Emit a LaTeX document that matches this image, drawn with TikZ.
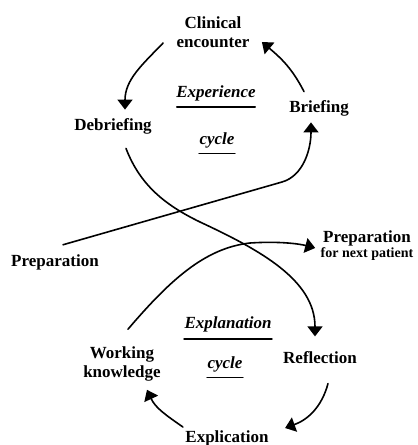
\documentclass[tikz,border=0pt]{standalone}
\usepackage{fontspec}
\setmainfont{Liberation Serif}
\usetikzlibrary{arrows.meta,positioning,calc}

\tikzset{
  lbl/.style={font=\bfseries\fontsize{17}{19}\selectfont,align=center},
  ttl/.style={font=\bfseries\itshape\fontsize{17}{19}\selectfont},
  arr/.style={-{Triangle[width=15pt,length=10pt]},line width=1.6pt},
  uline/.style={line width=1.5pt}
}

\begin{document}
\begin{tikzpicture}[x=1pt,y=1pt,line join=round,line cap=round]
\useasboundingbox (0,0) rectangle (418,-445);
% experience cycle
\node[lbl] (clin) at (213,-32) {Clinical\\encounter};
\node[lbl] (debr) at (113,-126) {Debriefing};
\node[lbl] (brief) at (319,-108) {Briefing};
\node[ttl] (exper) at (216,-93) {Experience};
\node[ttl] (ecyc) at (217,-140) {cycle};
\node[lbl] (prep) at (55,-262) {Preparation};
\node[lbl] (next) at (367,-246) {Preparation\\[-4pt]{\fontsize{14}{15}\selectfont for next patient}};
% explanation cycle
\node[ttl] (expla) at (228,-324) {Explanation};
\node[ttl] (xcyc) at (225,-364) {cycle};
\node[lbl] (work) at (122,-364) {Working\\knowledge};
\node[lbl] (refl) at (320,-358) {Reflection};
\node[lbl] (expl) at (227,-438) {Explication};
% underlines
\draw[uline] ([shift={(4,-3)}]exper.south west) -- ([shift={(-4,-3)}]exper.south east);
\draw[uline] ([shift={(3,-2)}]ecyc.south west) -- ([shift={(-3,-2)}]ecyc.south east);
\draw[uline] ([shift={(3,-4)}]expla.south west) -- ([shift={(-3,-4)}]expla.south east);
\draw[uline] ([shift={(3,-2)}]xcyc.south west) -- ([shift={(-3,-2)}]xcyc.south east);
% arrows
\draw[arr] ([shift={(-10,-11)}]clin.west) to[out=226,in=90] ([shift={(12,5)}]debr.north);
\draw[arr] ([shift={(-15,5)}]brief.north) to[out=117,in=-40] ([shift={(9,-10)}]clin.east);
\draw[arr] ([shift={(13,-11)}]debr.south) .. controls (140,-185) and (165,-205) .. (200,-222)
  .. controls (260,-250) and (315,-280) .. ([shift={(-5,12)}]refl.north);
\draw[arr] ([shift={(8,6)}]prep.north) -- (282,-182) .. controls (303,-176) and (311,-150) .. ([shift={(-8,-3)}]brief.south);
\draw[arr] ([shift={(6,14)}]work.north) .. controls (170,-280) and (205,-248) .. (250,-243)
  .. controls (280,-241) and (300,-244) .. ([shift={(-2,-2)}]next.west);
\draw[arr] ([shift={(8,-16)}]refl.south) to[out=-105,in=20] ([shift={(13,10)}]expl.east);
\draw[arr] ([shift={(1,11)}]expl.west) to[out=145,in=-65] ([shift={(25,-5)}]work.south);
\end{tikzpicture}
\end{document}
